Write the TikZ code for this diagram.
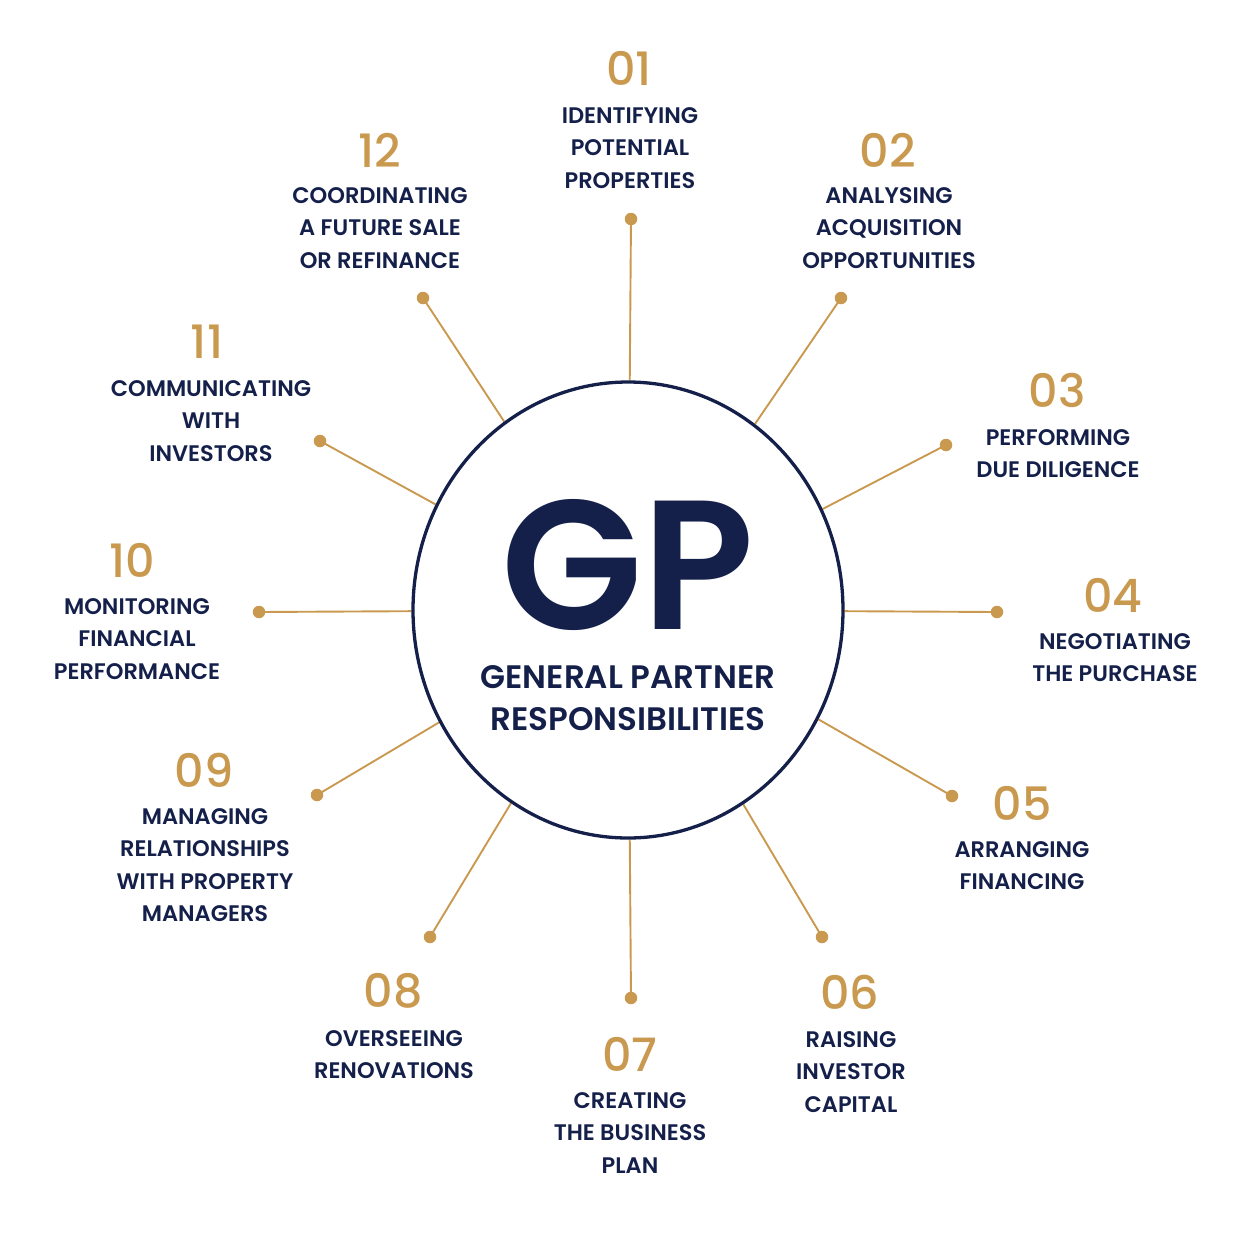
\documentclass[tikz,border=0pt]{standalone}
\usepackage{fontspec}
\setmainfont{Poppins}
\newfontfamily\semib{Poppins SemiBold}
\newfontfamily\medf{Poppins Medium}
\usetikzlibrary{shapes.geometric,backgrounds}
\definecolor{navy}{HTML}{14204A}
\definecolor{gold}{HTML}{C9994F}
\begin{document}
\begin{tikzpicture}[x=1pt,y=-1pt,
  num/.style={text=gold, font=\medf\fontsize{46}{46}\selectfont, inner sep=0pt},
  lab/.style={text=navy, font=\semib\fontsize{22.5}{32.5}\selectfont, align=center, inner sep=0pt, anchor=north},
  spoke/.style={draw=gold, line width=1.9pt},
  dotn/.style={circle, fill=gold, inner sep=0pt, minimum size=12.5pt}]
\useasboundingbox (0,0) rectangle (1254,1254);

% centre
\node[draw=navy, line width=3.3pt, ellipse, minimum width=430, minimum height=456, inner sep=0pt] (gp) at (628,610) {};
\node[text=navy, font=\semib\fontsize{184}{184}\selectfont, inner sep=0pt] (gpt) at (628,565) {GP};
\node[text=navy, font=\semib\fontsize{32.5}{42}\selectfont, align=center, inner sep=0pt, anchor=north] (gpl) at (628,665) {GENERAL PARTNER\\RESPONSIBILITIES};

% dots
\node[dotn] (d01) at (631,219) {};
\node[dotn] (d02) at (841,298) {};
\node[dotn] (d03) at (946,445) {};
\node[dotn] (d04) at (997,612) {};
\node[dotn] (d05) at (952,796) {};
\node[dotn] (d06) at (822,937) {};
\node[dotn] (d07) at (631,998) {};
\node[dotn] (d08) at (430,937) {};
\node[dotn] (d09) at (317,795) {};
\node[dotn] (d10) at (259,612) {};
\node[dotn] (d11) at (320,441) {};
\node[dotn] (d12) at (423,298) {};

\begin{scope}[on background layer]
\foreach \i in {01,02,03,04,05,06,07,08,09,10,11,12}
  \draw[spoke] (d\i.center) -- (gp);
\end{scope}

% numbers
\node[num] (n01) at (629,68) {01};
\node[num] (n02) at (888,150) {02};
\node[num] (n03) at (1057,390) {03};
\node[num] (n04) at (1113,595) {04};
\node[num] (n05) at (1022,803) {05};
\node[num] (n06) at (850,992) {06};
\node[num] (n07) at (630,1054) {07};
\node[num] (n08) at (393,991) {08};
\node[num] (n09) at (204,770) {09};
\node[num] (n10) at (132,560) {10};
\node[num] (n11) at (207,342) {11};
\node[num] (n12) at (380,150) {12};

% labels
\node[lab] (l01) at (630,107) {IDENTIFYING\\POTENTIAL\\PROPERTIES};
\node[lab] (l02) at (889,187) {ANALYSING\\ACQUISITION\\OPPORTUNITIES};
\node[lab] (l03) at (1058,429) {PERFORMING\\DUE DILIGENCE};
\node[lab] (l04) at (1115,633) {NEGOTIATING\\THE PURCHASE};
\node[lab] (l05) at (1022,841) {ARRANGING\\FINANCING};
\node[lab] (l06) at (851,1031) {RAISING\\INVESTOR\\CAPITAL};
\node[lab] (l07) at (630,1092) {CREATING\\THE BUSINESS\\PLAN};
\node[lab] (l08) at (394,1030) {OVERSEEING\\RENOVATIONS};
\node[lab] (l09) at (205,808) {MANAGING\\RELATIONSHIPS\\WITH PROPERTY\\MANAGERS};
\node[lab] (l10) at (137,598) {MONITORING\\FINANCIAL\\PERFORMANCE};
\node[lab] (l11) at (211,380) {COMMUNICATING\\WITH\\INVESTORS};
\node[lab] (l12) at (380,187) {COORDINATING\\A FUTURE SALE\\OR REFINANCE};
\end{tikzpicture}
\end{document}
